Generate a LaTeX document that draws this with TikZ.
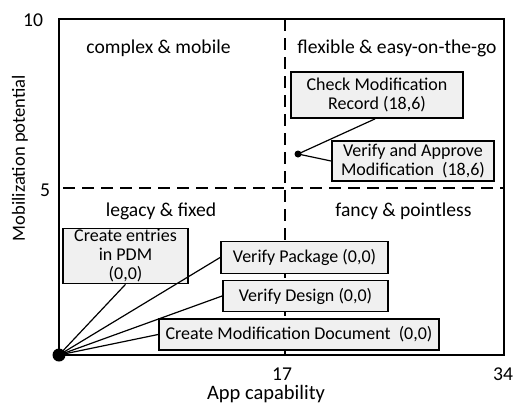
\documentclass[tikz,border=0pt]{standalone}
\usepackage{fontspec}
\setmainfont{Carlito}
\usepackage{tikz}
\usetikzlibrary{positioning}

\begin{document}
\begin{tikzpicture}[
  x=1pt, y=-1pt,
  txt/.style={font=\fontsize{19.6}{19}\selectfont, inner sep=0pt},
  box/.style={draw, line width=1.8pt, fill=black!6, align=center, inner sep=1pt,
    font=\fontsize{18}{19}\selectfont},
  quad/.style={line width=2.4pt, dash pattern=on 12pt off 7pt},
  link/.style={line width=1.2pt},
  dot/.style={circle, fill, inner sep=0pt}
]
\useasboundingbox (0,0) rectangle (514,405);

% frame and quadrants
\draw[line width=1.4pt] (59,19) rectangle (504,355);
\draw[quad] (285,19) -- (285,358);
\draw[quad] (63,188) -- (504,188);

% axes
\node[txt] (ytop) at (33,20) {10};
\node[txt] (ymid) at (45,190) {5};
\node[txt] (xmid) at (282,374) {17};
\node[txt] (xend) at (503,374) {34};
\node[txt, font=\fontsize{20.5}{20}\selectfont] (xlab) at (266,394) {App capability};
\node[txt, font=\fontsize{18.6}{19}\selectfont, rotate=90] (ylab) at (20,158) {Mobilization potential};

% quadrant names
\node[txt] (q1) at (158.5,48) {complex \& mobile};
\node[txt] (q2) at (397,48) {flexible \& easy-on-the-go};
\node[txt] (q3) at (161,211) {legacy \& fixed};
\node[txt] (q4) at (403.5,211) {fancy \& pointless};

% activities
\node[box, minimum width=172pt, minimum height=46pt] (check) at (377,95) {Check Modification\\Record (18,6)};
\node[box, minimum width=162pt, minimum height=40pt] (approve) at (413,161) {Verify and Approve\\Modification\ \ (18,6)};
\node[box, minimum width=125pt, minimum height=54pt] (pdm) at (125.5,256) {Create entries\\in PDM\\(0,0)};
\node[box, minimum width=167pt, minimum height=32pt] (package) at (304.5,257.5) {Verify Package (0,0)};
\node[box, minimum width=165pt, minimum height=31pt] (design) at (305.5,296) {Verify Design (0,0)};
\node[box, minimum width=280pt, minimum height=31pt] (document) at (299,334.5) {Create Modification Document\ \ (0,0)};

\node[dot, minimum size=7pt] (p186) at (298,154) {};
\node[dot, minimum size=13pt] (p00) at (59,355) {};

\draw[link] (p186.center) -- ([xshift=-2pt]check.south);
\draw[link] (p186.center) -- (approve.west);
\draw[link] (p00.center) -- (pdm.south);
\draw[link] (p00.center) -- (package.west);
\draw[link] (p00.center) -- (design.west);
\draw[link] (p00.center) -- (document.west);
\end{tikzpicture}
\end{document}
